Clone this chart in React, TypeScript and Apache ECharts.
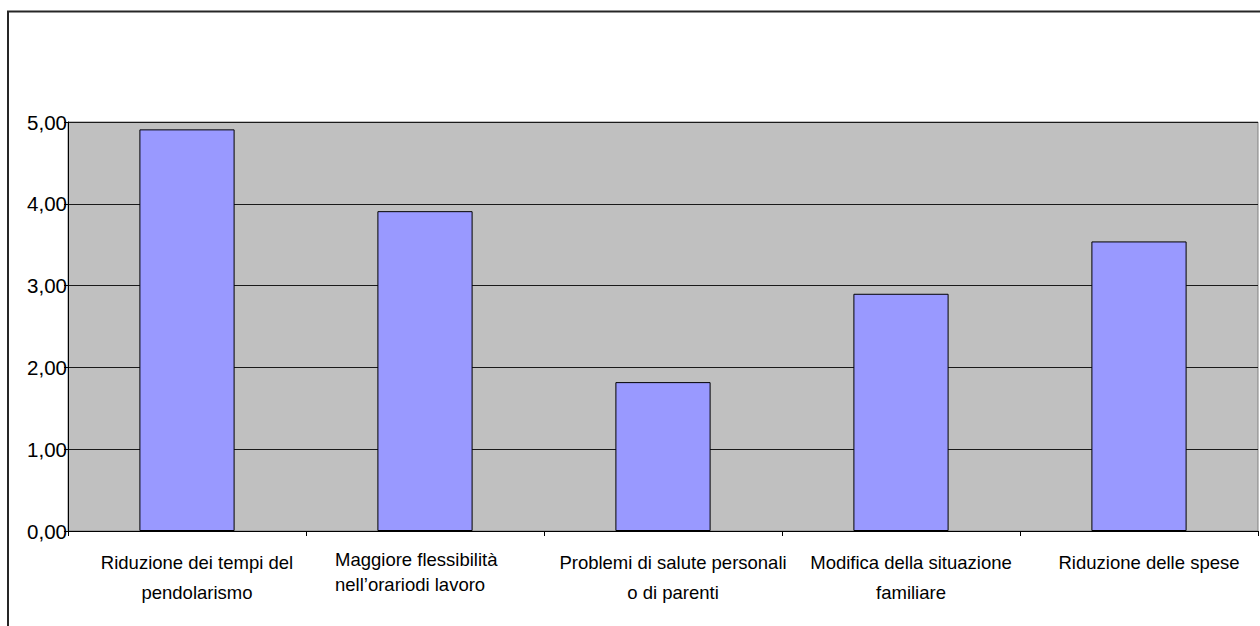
import React, { useEffect, useRef } from "react";
import * as echarts from "echarts";

// Motivazioni (punteggio medio)
const categories: string[] = [
  "Riduzione dei tempi del\npendolarismo",
  "Maggiore flessibilità\nnell’orariodi lavoro",
  "Problemi di salute personali\no di parenti",
  "Modifica della situazione\nfamiliare",
  "Riduzione delle spese",
];
const values: number[] = [4.91, 3.91, 1.82, 2.9, 3.54];

const yMin = 0;
const yMax = 5;
const yStep = 1;

const FONT = '"Liberation Sans", Arial, Helvetica, sans-serif';

export default function App() {
  const ref = useRef<HTMLDivElement>(null);

  useEffect(() => {
    if (!ref.current) return;
    const chart = echarts.init(ref.current, undefined, { renderer: "svg" });
    chart.setOption({
      animation: false,
      backgroundColor: "#ffffff",
      graphic: [
        {
          type: "rect",
          silent: true,
          shape: { x: 8, y: 11.5, width: 1300, height: 700 },
          style: { fill: "none", stroke: "#262626", lineWidth: 2 },
        },
      ],
      grid: {
        left: 68,
        top: 122,
        right: 2,
        bottom: 95,
        show: true,
        backgroundColor: "#c0c0c0",
        borderColor: "#808080",
        borderWidth: 1,
      },
      xAxis: {
        type: "category",
        data: categories,
        axisLine: { show: true, lineStyle: { color: "#000000", width: 1 } },
        axisTick: { show: true, length: 5, lineStyle: { color: "#000000" } },
        splitLine: { show: false },
        axisLabel: {
          interval: 0,
          margin: 16,
          padding: [0, 0, 0, 20],
          color: "#000000",
          fontFamily: FONT,
          fontSize: 18.5,
          lineHeight: 30,
          formatter: (v: string, i: number) =>
            i === 1
              ? v
                  .split("\n")
                  .map((s) => `{left|${s}}`)
                  .join("\n")
              : v,
          rich: {
            left: {
              width: 200,
              align: "left",
              lineHeight: 25,
              fontSize: 18.5,
              fontFamily: FONT,
              color: "#000000",
            },
          },
        },
      },
      yAxis: {
        type: "value",
        min: yMin,
        max: yMax,
        interval: yStep,
        axisLine: { show: true, lineStyle: { color: "#000000", width: 1 } },
        axisTick: { show: true, length: 4, lineStyle: { color: "#000000" } },
        splitLine: { show: true, lineStyle: { color: "#1a1a1a", width: 1 } },
        axisLabel: {
          margin: 1,
          color: "#000000",
          fontFamily: FONT,
          fontSize: 20.5,
          formatter: (v: number) => v.toFixed(2).replace(".", ","),
        },
      },
      series: [
        {
          type: "bar",
          data: values,
          barWidth: "40%",
          itemStyle: {
            color: "#9999ff",
            borderColor: "#000000",
            borderWidth: 1,
          },
        },
      ],
    });
    return () => chart.dispose();
  }, []);

  return (
    <div
      ref={ref}
      style={{ position: "fixed", left: 0, top: 0, width: 1260, height: 626 }}
    />
  );
}
